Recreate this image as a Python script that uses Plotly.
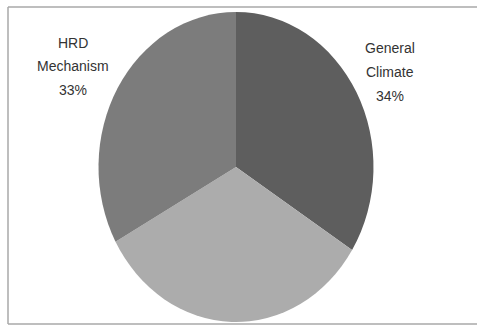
import plotly.graph_objects as go

# Data
labels = ["General Climate", "Other", "HRD Mechanism"]
values = [34, 33, 33]
colors = ["#5e5e5e", "#acacac", "#7c7c7c"]
show_label = [True, False, True]

W, H = 477, 327
CX, CY, RY, RX = 236, 167, 155, 137.5

fig = go.Figure()
fig.add_trace(go.Pie(
    labels=labels,
    values=values,
    sort=False,
    direction="clockwise",
    rotation=0,
    marker=dict(colors=colors, line=dict(width=0)),
    textinfo="none",
    hoverinfo="label+percent",
    showlegend=False,
    domain=dict(x=[CX / W - 0.33, CX / W + 0.33],
                y=[1 - (CY + RY) / H, 1 - (CY - RY) / H]),
))

# Label positions (pixels) for the visible data labels
label_pos = {"HRD Mechanism": (73, [43, 66, 90]),
             "General Climate": (390, [48, 72, 96])}
total = sum(values)
annotations = []
for lab, val, show in zip(labels, values, show_label):
    if not show:
        continue
    x, ys = label_pos[lab]
    lines = lab.split(" ") + [f"{round(100 * val / total)}%"]
    for line, y in zip(lines, ys):
        annotations.append(dict(
            text=line, x=x / W, y=1 - y / H, xref="paper", yref="paper",
            showarrow=False, xanchor="center", yanchor="middle",
            font=dict(family="Liberation Sans", size=14, color="#333333"),
        ))

# Chart-area frame (left, top, bottom edges; right edge falls outside the crop)
fx0, fy_top, fy_bot = 8 / W, 1 - 7 / H, 1 - 324 / H
frame_style = dict(type="line", xref="paper", yref="paper",
                   line=dict(color="#a8a8a8", width=1.5), layer="below")
shapes = [
    dict(x0=fx0, x1=1.05, y0=fy_top, y1=fy_top, **frame_style),
    dict(x0=fx0, x1=1.05, y0=fy_bot, y1=fy_bot, **frame_style),
    dict(x0=fx0, x1=fx0, y0=fy_bot, y1=fy_top, **frame_style),
]

fig.update_layout(
    width=W, height=H,
    margin=dict(l=0, r=0, t=0, b=0),
    paper_bgcolor="white",
    plot_bgcolor="white",
    annotations=annotations,
    shapes=shapes,
)

post = """
var gd = document.getElementById('{plot_id}');
function squash(){
  var t = gd.querySelector('.pielayer .trace');
  if(t){ t.setAttribute('transform', 'translate(%f,0) scale(%f,1) translate(%f,0)'); }
}
squash();
if(gd.on){ gd.on('plotly_afterplot', squash); }
""" % (CX, RX / RY, -CX)

fig.write_html("out.html", post_script=post)
